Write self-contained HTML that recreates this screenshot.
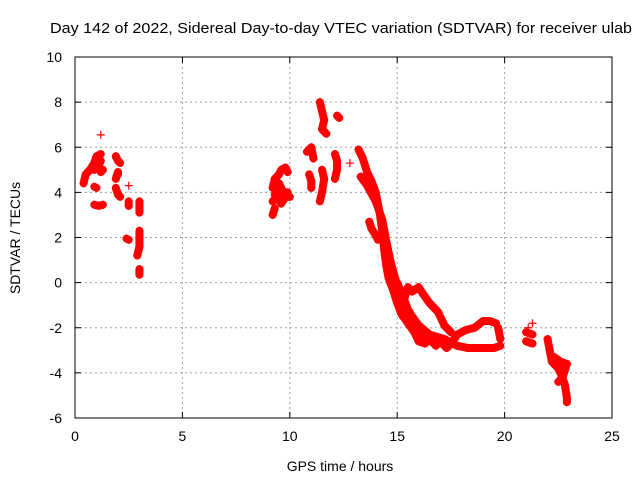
<!DOCTYPE html>
<html><head><meta charset="utf-8"><style>
html,body{margin:0;padding:0;background:#fff;}
svg{display:block;font-family:"Liberation Sans",sans-serif;}
</style></head><body>
<svg id="chart" width="640" height="480" viewBox="0 0 640 480">
<text x="341" y="33" font-size="15" text-anchor="middle" textLength="582" lengthAdjust="spacingAndGlyphs">Day 142 of 2022, Sidereal Day-to-day VTEC variation (SDTVAR) for receiver ulab</text>
<text x="340" y="471" font-size="14" text-anchor="middle">GPS time / hours</text>
<text x="20" y="238" font-size="14" text-anchor="middle" transform="rotate(-90 20 238)">SDTVAR / TECUs</text>
<g id="grid"></g><g id="marks"></g>
<rect x="75" y="57" width="537" height="361" fill="none" stroke="#000" stroke-width="1"/>
<g id="ticks"></g>
</svg>
<script>
const xTicks=[0,5,10,15,20,25];
const yTicks=[-6,-4,-2,0,2,4,6,8,10];
const tracks=[
[[0.4,4.4],[0.5,4.8],[0.7,5.0],[0.9,5.3],[1.0,5.6],[1.2,5.7]],
[[0.9,5.0],[1.1,5.2],[1.2,5.4]],
[[1.2,6.55]],
[[0.9,4.25],[1.0,4.2]],
[[0.9,3.45],[1.1,3.4],[1.3,3.45]],
[[1.2,4.9],[1.3,5.0]],
[[1.9,5.6],[2.0,5.4],[2.1,5.3]],
[[1.9,4.6],[2.0,4.9],[2.0,4.8]],
[[1.9,4.2],[2.0,3.9],[2.1,3.8]],
[[2.5,4.3]],[[2.5,3.6],[2.5,3.4]],[[2.4,1.95],[2.5,1.9]],
[[3.0,3.6],[3.0,3.1]],[[3.0,2.3],[3.0,2.1],[3.0,1.6],[2.9,1.2]],[[3.0,0.6],[3.0,0.35]],
[[9.2,4.2],[9.3,4.6],[9.5,4.8],[9.6,5.0],[9.8,5.1],[9.9,4.9]],
[[9.3,3.9],[9.5,4.4],[9.7,4.0],[9.9,4.0]],
[[9.2,3.6],[9.4,3.8],[9.6,3.5],[9.8,3.8],[10.0,3.8]],
[[9.2,3.0],[9.3,3.3]],
[[10.8,5.8],[11.0,6.0],[11.1,5.5]],
[[10.9,4.8],[11.0,4.5],[11.0,4.2]],
[[11.4,8.0],[11.5,7.6],[11.6,7.2],[11.5,6.8],[11.7,6.6]],
[[11.5,5.0],[11.6,4.6],[11.5,4.0],[11.4,3.6]],
[[12.2,7.4],[12.3,7.3]],
[[12.1,5.7],[12.2,5.4],[12.2,5.0],[12.1,4.6]],
[[12.8,5.3]],
[[13.2,5.9],[13.4,5.5],[13.6,4.9],[13.8,4.5],[14.0,4.0],[14.1,3.5],[14.2,3.0],[14.3,2.3],[14.4,1.4],[14.5,0.7],[14.6,0.2],[14.8,-0.3],[15.0,-0.9],[15.2,-1.4],[15.5,-1.8],[15.8,-2.2],[16.0,-2.6],[16.3,-2.7],[16.5,-2.5],[16.8,-2.8],[17.0,-2.6],[17.3,-2.9],[17.5,-2.7],[17.8,-2.3],[18.2,-2.1],[18.6,-2.0],[19.0,-1.7],[19.3,-1.7],[19.6,-1.8]],
[[13.3,4.7],[13.6,4.3],[14.0,3.6],[14.3,2.8],[14.5,1.8],[14.7,0.9],[14.9,0.2],[15.1,-0.4],[15.3,-0.8],[15.5,-0.2],[15.7,-0.4],[16.0,-0.2],[16.2,-0.5],[16.5,-0.9],[16.9,-1.3],[17.2,-1.9],[17.5,-2.2]],
[[15.0,0.0],[15.3,-0.7],[15.5,-1.2],[15.7,-1.5],[16.0,-1.9],[16.5,-2.3],[17.2,-2.5],[17.8,-2.8],[18.3,-2.9],[19.0,-2.9],[19.5,-2.9],[19.8,-2.8]],
[[19.7,-2.0],[19.8,-2.5]],
[[13.7,2.7],[13.8,2.4],[14.0,2.1],[14.1,1.9]],
[[15.4,-1.6],[15.7,-2.0],[16.5,-2.5]],
[[21.0,-2.2],[21.3,-2.3]],[[21.0,-2.6],[21.3,-2.7]],[[21.1,-2.0]],[[21.3,-1.8]],
[[22.0,-2.5],[22.1,-3.0],[22.2,-3.5],[22.5,-3.8],[22.6,-4.0],[22.8,-4.5],[22.9,-5.1],[22.9,-5.3]],
[[22.3,-3.3],[22.6,-3.5],[22.9,-3.6],[22.7,-4.2],[22.5,-4.4]]
];
const X0=75,X1=612,Y0=418,Y1=57,XMIN=0,XMAX=25,YMIN=-6,YMAX=10;
function xs(t){return X0+(t-XMIN)/(XMAX-XMIN)*(X1-X0);}
function ys(v){return Y0-(v-YMIN)/(YMAX-YMIN)*(Y0-Y1);}
const NS='http://www.w3.org/2000/svg';
const grid=document.getElementById('grid'),ticks=document.getElementById('ticks'),marks=document.getElementById('marks');
function mk(tag,attrs,parent){const e=document.createElementNS(NS,tag);for(const k in attrs)e.setAttribute(k,attrs[k]);parent.appendChild(e);return e;}
xTicks.forEach(t=>{const x=xs(t);
 if(t>XMIN&&t<XMAX){const g=mk('line',{x1:x,x2:x,y1:Y1,y2:Y0,stroke:'#a0a0a0','stroke-dasharray':'2,3'},grid);
 
 }
 mk('line',{x1:x,x2:x,y1:Y0,y2:Y0-6,stroke:'#000'},ticks);mk('line',{x1:x,x2:x,y1:Y1,y2:Y1+6,stroke:'#000'},ticks);
 const l=mk('text',{x:x,y:Y0+23,'font-size':14,'text-anchor':'middle'},ticks);l.textContent=t;
 
 });
yTicks.forEach(v=>{const y=ys(v);
 if(v>YMIN&&v<YMAX){const g=mk('line',{x1:X0,x2:X1,y1:y,y2:y,stroke:'#a0a0a0','stroke-dasharray':'2,3'},grid);
 
 }
 mk('line',{x1:X0,x2:X0+6,y1:y,y2:y,stroke:'#000'},ticks);mk('line',{x1:X1,x2:X1-6,y1:y,y2:y,stroke:'#000'},ticks);
 const l=mk('text',{x:X0-13,y:y+5,'font-size':14,'text-anchor':'end'},ticks);l.textContent=v;
 
 });
tracks.forEach(tr=>{
 if(tr.length>1){const p=mk('polyline',{points:tr.map(d=>xs(d[0])+','+ys(d[1])).join(' '),fill:'none',stroke:'#f00','stroke-width':8,'stroke-linejoin':'round','stroke-linecap':'round'},marks);
 
 }
 tr.forEach(d=>{const x=xs(d[0]),y=ys(d[1]);
  const m=mk('path',{d:`M${x-4},${y}H${x+4}M${x},${y-4}V${y+4}`,stroke:'#f00','stroke-width':1.2},marks);
  
  });
});
</script>
</body></html>
